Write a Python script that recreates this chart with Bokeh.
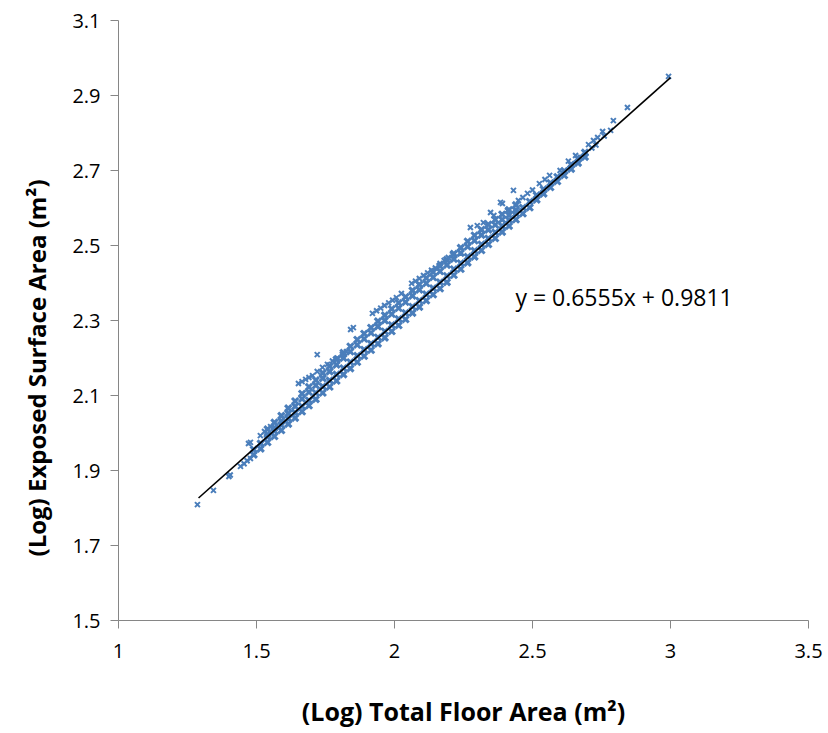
from bokeh.plotting import figure
from bokeh.models import Range1d, FixedTicker, Label, Title
from bokeh.embed import file_html
from bokeh.resources import INLINE

# ---------------- data ----------------
x_tick_vals = [1, 1.5, 2, 2.5, 3, 3.5]
x_tick_labels = ["1", "1.5", "2", "2.5", "3", "3.5"]
y_tick_vals = [1.5, 1.7, 1.9, 2.1, 2.3, 2.5, 2.7, 2.9, 3.1]
y_tick_labels = ["1.5", "1.7", "1.9", "2.1", "2.3", "2.5", "2.7", "2.9", "3.1"]

# main (lower) band, along the trend line
band_low_x = [1.490, 1.515, 1.540, 1.565, 1.590, 1.615, 1.640, 1.665, 1.690, 1.715,
              1.740, 1.765, 1.790, 1.815, 1.840, 1.865, 1.890, 1.915, 1.940, 1.965,
              1.990, 2.015, 2.040, 2.065, 2.090, 2.115, 2.140, 2.165, 2.190, 2.215,
              2.240, 2.265, 2.290, 2.315, 2.340, 2.365, 2.390, 2.415, 2.440, 2.465,
              2.490, 2.515, 2.540, 2.565, 2.590, 2.615, 2.640, 2.665, 2.690]
band_low_y1 = [1.942, 1.958, 1.975, 1.991, 2.007, 2.024, 2.040, 2.057, 2.073, 2.090,
               2.107, 2.123, 2.139, 2.156, 2.172, 2.189, 2.205, 2.221, 2.238, 2.254,
               2.271, 2.287, 2.303, 2.320, 2.336, 2.353, 2.369, 2.385, 2.402, 2.421,
               2.437, 2.454, 2.470, 2.487, 2.503, 2.519, 2.536, 2.552, 2.569, 2.585,
               2.601, 2.622, 2.638, 2.655, 2.671, 2.687, 2.704, 2.720, 2.736]
band_low_y2 = [1.956, 1.972, 1.989, 2.005, 2.021, 2.038, 2.054, 2.071, 2.087, 2.107,
               2.124, 2.140, 2.156, 2.173, 2.189, 2.206, 2.222, 2.238, 2.255, 2.271,
               2.288, 2.304, 2.320, 2.337, 2.353, 2.370, 2.386, 2.402, 2.419, 2.437,
               2.453, 2.470, 2.486, 2.503, 2.519, 2.535, 2.552, 2.568, 2.585, 2.601,
               2.617, 2.634, 2.650, 2.667, 2.683, 2.699, 2.716, 2.732, 2.748]

# middle band, slightly above the trend line
band_mid_x = [1.540, 1.565, 1.590, 1.615, 1.640, 1.665, 1.690, 1.715, 1.740, 1.765,
              1.790, 1.815, 1.840, 1.865, 1.890, 1.915, 1.940, 1.965, 1.990, 2.015,
              2.040, 2.065, 2.090, 2.115, 2.140, 2.165, 2.190, 2.215, 2.240, 2.265,
              2.290, 2.315, 2.340, 2.365, 2.390, 2.415, 2.440]
band_mid_y1 = [1.996, 2.014, 2.032, 2.052, 2.071, 2.091, 2.109, 2.127, 2.146, 2.164,
               2.182, 2.200, 2.217, 2.235, 2.251, 2.267, 2.284, 2.300, 2.317, 2.333,
               2.349, 2.366, 2.382, 2.399, 2.415, 2.431, 2.448, 2.464, 2.480, 2.497,
               2.513, 2.528, 2.542, 2.555, 2.569, 2.581, 2.594]
band_mid_y2 = [2.010, 2.028, 2.046, 2.066, 2.085, 2.105, 2.123, 2.141, 2.160, 2.178,
               2.196, 2.214, 2.231, 2.249, 2.265, 2.281, 2.298, 2.314, 2.331, 2.347,
               2.363, 2.380, 2.396, 2.413, 2.429, 2.445, 2.462, 2.478, 2.494, 2.511,
               2.527, 2.542, 2.556, 2.569, 2.583, 2.595, 2.608]

# upper thin (dashed-looking) band
band_up_x = [1.652, 1.665, 1.678, 1.690, 1.703, 1.720, 1.720, 1.739, 1.757, 1.775,
             1.793, 1.811, 1.826, 1.841, 1.851, 1.920, 1.935, 1.950, 1.964, 1.979,
             1.993, 2.007, 2.025, 2.062, 2.076, 2.090, 2.105, 2.120, 2.134, 2.148,
             2.165, 2.180, 2.195, 2.210]
band_up_y = [2.132, 2.137, 2.143, 2.148, 2.153, 2.209, 2.164, 2.175, 2.183, 2.192,
             2.200, 2.209, 2.217, 2.276, 2.281, 2.319, 2.326, 2.333, 2.340, 2.347,
             2.354, 2.361, 2.372, 2.399, 2.405, 2.412, 2.420, 2.427, 2.434, 2.440,
             2.452, 2.460, 2.468, 2.476]

# scattered individual points
scatter_x = [1.286, 1.344, 1.400, 1.405, 1.442, 1.455, 1.466, 1.478, 1.471, 1.478,
             1.514, 1.529, 1.551,
             2.275, 2.300, 2.322, 2.348, 2.360, 2.384, 2.391, 2.409, 2.431, 2.449,
             2.465, 2.482, 2.500, 2.525, 2.545, 2.562, 2.600, 2.630, 2.656, 2.674,
             2.703, 2.715, 2.721, 2.730, 2.736, 2.754, 2.760, 2.783, 2.793, 2.844,
             2.993]
scatter_y = [1.809, 1.847, 1.884, 1.888, 1.911, 1.918, 1.926, 1.932, 1.972, 1.975,
             1.993, 2.004, 2.017,
             2.548, 2.553, 2.561, 2.588, 2.580, 2.615, 2.612, 2.593, 2.647, 2.620,
             2.628, 2.639, 2.648, 2.665, 2.676, 2.687, 2.700, 2.725, 2.740, 2.735,
             2.769, 2.760, 2.780, 2.768, 2.788, 2.804, 2.792, 2.807, 2.833, 2.868,
             2.951]

# linear trend line shown in the chart
trend_slope = 0.6555
trend_intercept = 0.9811
trend_x_range = [1.29, 3.0]
equation_text = "y = 0.6555x + 0.9811"

x_title = "(Log) Total Floor Area (m²)"
y_title = "(Log) Exposed Surface Area (m²)"

# ---------------- figure ----------------
FONT = "Open Sans"
BLUE = "#4A7EBB"
AXIS_GREY = "#868686"

p = figure(width=826, height=733, output_backend="svg", toolbar_location=None,
           x_range=Range1d(1, 3.5), y_range=Range1d(1.5, 3.1),
           min_border_left=118, min_border_right=18,
           min_border_top=20, min_border_bottom=113)
p.outline_line_color = None
p.xgrid.visible = False
p.ygrid.visible = False
p.background_fill_color = "white"
p.border_fill_color = "white"

for ax, vals, labs in ((p.xaxis[0], x_tick_vals, x_tick_labels),
                       (p.yaxis[0], y_tick_vals, y_tick_labels)):
    ax.ticker = FixedTicker(ticks=vals)
    ax.major_label_overrides = {float(v): l for v, l in zip(vals, labs)}
    ax.axis_line_color = AXIS_GREY
    ax.axis_line_width = 1
    ax.major_tick_line_color = AXIS_GREY
    ax.major_tick_out = 8
    ax.major_tick_in = 0
    ax.minor_tick_line_color = None
    ax.major_label_text_font = FONT
    ax.major_label_text_font_size = "20px"
    ax.major_label_text_color = "black"

p.xaxis[0].major_label_standoff = 15
p.yaxis[0].major_label_standoff = 10

p.xaxis[0].axis_label = x_title
p.xaxis[0].axis_label_text_font = FONT
p.xaxis[0].axis_label_text_font_size = "25px"
p.xaxis[0].axis_label_text_font_style = "bold"
p.xaxis[0].axis_label_text_color = "black"
p.xaxis[0].axis_label_standoff = 33

# y title: placed as a side title so it can sit below the frame centre, as in the reference
p.add_layout(Title(text=y_title, align="left", offset=64, standoff=33,
                   text_font=FONT, text_font_size="24px",
                   text_font_style="bold", text_color="black"), "left")

band_kw = dict(marker="x", size=9, line_color=BLUE, line_width=3)
p.scatter(band_low_x, band_low_y1, **band_kw)
p.scatter(band_low_x, band_low_y2, **band_kw)
p.scatter(band_mid_x, band_mid_y1, **band_kw)
p.scatter(band_mid_x, band_mid_y2, **band_kw)
pt_kw = dict(marker="x", size=7, line_color=BLUE, line_width=2)
p.scatter(band_up_x, band_up_y, **pt_kw)
p.scatter(scatter_x, scatter_y, **pt_kw)

trend_y = [trend_slope * v + trend_intercept for v in trend_x_range]
p.line(trend_x_range, trend_y, line_color="black", line_width=1.6)

p.add_layout(Label(x=2.438, y=2.364, text=equation_text,
                   text_align="left", text_baseline="middle",
                   text_font=FONT, text_font_size="23px", text_color="black"))

open("out.html", "w").write(file_html(p, INLINE))
